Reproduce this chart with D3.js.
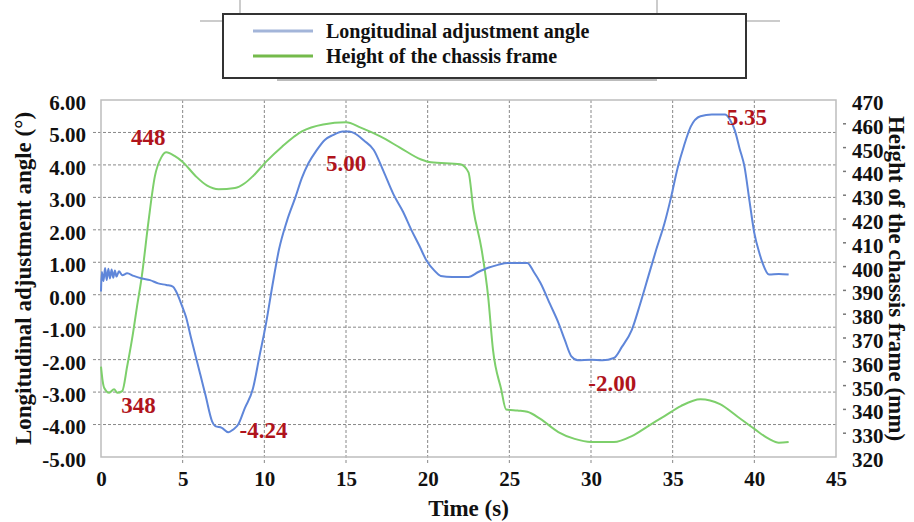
<!DOCTYPE html>
<html>
<head>
<meta charset="utf-8">
<script src="https://cdn.jsdelivr.net/npm/d3@7"></script>
<style>
  body { margin: 0; background: #fff; }
  svg text { font-family: "Liberation Serif", "Times New Roman", serif; font-weight: bold; }
</style>
</head>
<body>
<svg id="chart" width="914" height="522"></svg>
<script>
// time (s) and longitudinal adjustment angle (deg)
var angleTime = [0.0, 0.05, 0.15, 0.25, 0.35, 0.45, 0.55, 0.65, 0.75, 0.85, 0.95, 1.1, 1.3, 1.6, 2.0, 2.5, 3.0, 3.5, 4.0, 4.4, 4.6,
    5.0, 5.2, 5.5, 5.8, 6.1, 6.4, 6.8, 7.0, 7.4, 7.8, 8.1, 8.4, 8.8, 9.3, 9.7, 10.1, 10.5, 10.9, 11.4, 11.9,
    12.3, 12.7, 13.2, 13.7, 14.2, 14.8, 15.2, 15.5, 16.1, 16.7, 17.3, 17.9, 18.5, 19.0, 19.5, 19.9, 20.4, 20.8,
    21.5, 22.5, 23.1, 23.7, 24.3, 24.9, 25.5, 26.1, 26.5, 26.9, 27.5, 28.0, 28.4, 28.8, 29.2, 30.0, 30.7, 31.4,
    31.9, 32.5, 33.0, 33.5, 34.0, 34.5, 34.9, 35.3, 35.7, 36.1, 36.7, 37.4, 38.2, 38.5, 38.8, 39.1, 39.4, 39.7,
    40.0, 40.3, 40.5, 40.9, 41.5, 42.1];
var angleValue = [0.1, 0.7, 0.42, 0.82, 0.45, 0.8, 0.5, 0.78, 0.52, 0.75, 0.56, 0.72, 0.6, 0.66, 0.58, 0.5, 0.45, 0.35, 0.3, 0.25, 0.1,
    -0.4, -0.68, -1.3, -1.9, -2.5, -3.1, -3.9, -4.05, -4.1, -4.24, -4.15, -4.0, -3.5, -2.9, -1.9, -0.9, 0.3, 1.4, 2.3, 3.0,
    3.6, 4.05, 4.45, 4.77, 4.92, 5.03, 5.03, 4.98, 4.75, 4.46, 3.8, 3.1, 2.55, 2.0, 1.5, 1.08, 0.75, 0.58,
    0.55, 0.55, 0.7, 0.83, 0.92, 0.98, 0.98, 0.98, 0.7, 0.37, -0.3, -0.86, -1.4, -1.9, -2.02, -2.0, -2.02, -1.95,
    -1.6, -1.08, -0.3, 0.55, 1.4, 2.2, 3.0, 3.9, 4.6, 5.17, 5.5, 5.55, 5.55, 5.4, 5.07, 4.5, 3.94, 2.9,
    1.9, 1.3, 0.98, 0.62, 0.64, 0.62];

// time (s) and chassis frame height (mm)
var heightTime = [0.0, 0.1, 0.2, 0.5, 0.8, 1.0, 1.3, 1.6, 1.9, 2.2, 2.5, 2.9, 3.3, 3.7, 4.0, 4.5, 5.0, 5.8, 6.5, 7.2,
    8.2, 8.8, 9.3, 10.1, 11.1, 12.3, 13.6, 15.0, 15.9, 17.1, 18.3, 19.6, 20.2, 22.0, 22.5, 22.8, 23.3, 23.7, 24.0,
    24.5, 24.8, 25.5, 26.1, 26.9, 28.0, 29.0, 30.0, 31.4, 32.5, 33.5, 34.5, 35.5, 36.7, 37.9, 39.0, 40.0, 40.9,
    41.5, 42.1];
var heightValue = [358, 352, 349, 347, 348.5, 347, 347.7, 358, 369.5, 383, 396, 418.6, 438, 446, 448, 446.5, 444, 438, 434, 432.5,
    433, 435, 438, 444, 450.5, 456.8, 459.7, 460.6, 458.4, 454.7, 450, 445, 443.8, 443, 439.6, 424, 407.3, 387.6, 365,
    348.5, 340, 339.5, 339, 336, 330.5, 327.6, 326.3, 326.3, 328.8, 333, 337.2, 341.4, 344.3, 342.2, 336.8, 331.8, 327.6,
    326, 326.3];

var xTicks = [0, 5, 10, 15, 20, 25, 30, 35, 40, 45];
var leftTicks = [-5, -4, -3, -2, -1, 0, 1, 2, 3, 4, 5, 6];
var rightTicks = [320, 330, 340, 350, 360, 370, 380, 390, 400, 410, 420, 430, 440, 450, 460, 470];

var seriesNames = ["Longitudinal adjustment angle", "Height of the chassis frame"];

// peak labels, placed in time / angle coordinates
var noteText = ["448", "348", "-4.24", "5.00", "-2.00", "5.35"];
var noteTime = [2.9, 2.3, 9.95, 15.0, 31.3, 39.55];
var noteAngle = [4.86, -3.4, -4.16, 4.06, -2.72, 5.48];

var svg = d3.select("#chart"),
    margin = { top: 100, right: 78, bottom: 65, left: 101 },
    width = 914 - margin.left - margin.right,
    height = 522 - margin.top - margin.bottom;

var blue = "#5f86d9", green = "#7dcf6b", red = "#b0141c";

var x = d3.scaleLinear().domain([0, 45]).range([0, width]),
    yL = d3.scaleLinear().domain([-5, 6]).range([height, 0]),
    yR = d3.scaleLinear().domain([320, 470]).range([height, 0]);

// hyphen instead of unicode minus, like the source figure
var fmt2 = function (d) { return d3.format(".2f")(d).replace("\u2212", "-"); };

// stray frame lines from the source figure
svg.append("line").attr("x1", 200).attr("x2", 780).attr("y1", 21).attr("y2", 21)
    .attr("stroke", "#999").attr("stroke-width", 1);
svg.append("line").attr("x1", 240).attr("x2", 240).attr("y1", 0).attr("y2", 14)
    .attr("stroke", "#999").attr("stroke-width", 1);
svg.append("line").attr("x1", 657).attr("x2", 657).attr("y1", 0).attr("y2", 14)
    .attr("stroke", "#999").attr("stroke-width", 1);
svg.append("line").attr("x1", 277).attr("x2", 657).attr("y1", 80).attr("y2", 80)
    .attr("stroke", "#bbb").attr("stroke-width", 2);

// legend
var legend = svg.append("g").attr("transform", "translate(223,14)");
legend.append("rect").attr("width", 523).attr("height", 64)
    .attr("fill", "#fff").attr("stroke", "#333").attr("stroke-width", 2);
var legColors = ["#a3b5d9", "#74ba4b"];
seriesNames.forEach(function (name, i) {
    legend.append("line").attr("x1", 30).attr("x2", 90)
        .attr("y1", 17 + i * 25).attr("y2", 17 + i * 25)
        .attr("stroke", legColors[i]).attr("stroke-width", 3);
    legend.append("text").attr("x", 103).attr("y", 17 + i * 25).attr("dy", "0.35em")
        .style("font-size", "20px").attr("fill", "#111").text(name);
});

var g = svg.append("g").attr("transform", "translate(" + margin.left + "," + margin.top + ")");

// grid
g.selectAll(".hgrid").data(leftTicks.slice(1, -1)).enter().append("line")
    .attr("x1", -8).attr("x2", width)
    .attr("y1", function (d) { return yL(d); }).attr("y2", function (d) { return yL(d); })
    .attr("stroke", "#888").attr("stroke-dasharray", "3,2");
g.selectAll(".vgrid").data(xTicks.slice(1, -1)).enter().append("line")
    .attr("y1", 0).attr("y2", height + 7)
    .attr("x1", function (d) { return x(d); }).attr("x2", function (d) { return x(d); })
    .attr("stroke", "#888").attr("stroke-dasharray", "3,2");

g.append("rect").attr("width", width).attr("height", height)
    .attr("fill", "none").attr("stroke", "#bdbdbd").attr("stroke-width", 1.5);

// axes
var axL = g.append("g").call(d3.axisLeft(yL).tickValues(leftTicks).tickSize(0).tickPadding(15)
    .tickFormat(fmt2));
var axR = g.append("g").attr("transform", "translate(" + width + ",0)")
    .call(d3.axisRight(yR).tickValues(rightTicks).tickSize(0).tickPadding(16).tickFormat(d3.format("d")));
var axB = g.append("g").attr("transform", "translate(0," + height + ")")
    .call(d3.axisBottom(x).tickValues(xTicks).tickSize(0).tickPadding(14));
[axL, axR, axB].forEach(function (a) {
    a.select(".domain").remove();
    a.selectAll("text").style("font-size", "21px").attr("fill", "#111")
        .style("font-family", "'Liberation Serif', serif").style("font-weight", "bold");
});
axL.selectAll("text").attr("dy", "0.45em");
axR.selectAll("text").attr("dy", "0.45em");

// small right-hand tick dashes
g.selectAll(".rtick").data(rightTicks.slice(1, -1)).enter().append("line")
    .attr("x1", width + 7).attr("x2", width + 10)
    .attr("y1", function (d) { return yR(d); }).attr("y2", function (d) { return yR(d); })
    .attr("stroke", "#777").attr("stroke-width", 1.5);

// axis titles
svg.append("text").attr("transform", "translate(23," + (margin.top + height / 2) + ") rotate(-90)")
    .attr("text-anchor", "middle").attr("dy", "0.35em").style("font-size", "23px").attr("fill", "#111")
    .text("Longitudinal adjustment angle (\u00b0)");
svg.append("text").attr("transform", "translate(897," + (margin.top + height / 2) + ") rotate(90)")
    .attr("text-anchor", "middle").attr("dy", "0.35em").style("font-size", "23px").attr("fill", "#111")
    .text("Height of the chassis frame (mm)");
svg.append("text").attr("x", margin.left + x(22.5)).attr("y", 508)
    .attr("text-anchor", "middle").attr("dy", "0.35em").style("font-size", "23px").attr("fill", "#111")
    .text("Time (s)");

// series
var angleData = angleTime.map(function (t, i) { return { t: t, v: angleValue[i] }; });
var heightData = heightTime.map(function (t, i) { return { t: t, v: heightValue[i] }; });

g.append("path").datum(heightData)
    .attr("fill", "none").attr("stroke", green).attr("stroke-width", 2)
    .attr("d", d3.line().curve(d3.curveMonotoneX)
        .x(function (d) { return x(d.t); }).y(function (d) { return yR(d.v); }));
g.append("path").datum(angleData)
    .attr("fill", "none").attr("stroke", blue).attr("stroke-width", 2)
    .attr("d", d3.line().curve(d3.curveMonotoneX)
        .x(function (d) { return x(d.t); }).y(function (d) { return yL(d.v); }));

// peak labels
g.selectAll(".note").data(noteText).enter().append("text")
    .attr("x", function (d, i) { return x(noteTime[i]); })
    .attr("y", function (d, i) { return yL(noteAngle[i]); })
    .attr("dy", "0.35em").attr("text-anchor", "middle")
    .style("font-size", "23px").attr("fill", red)
    .text(function (d) { return d; });
</script>
</body>
</html>
